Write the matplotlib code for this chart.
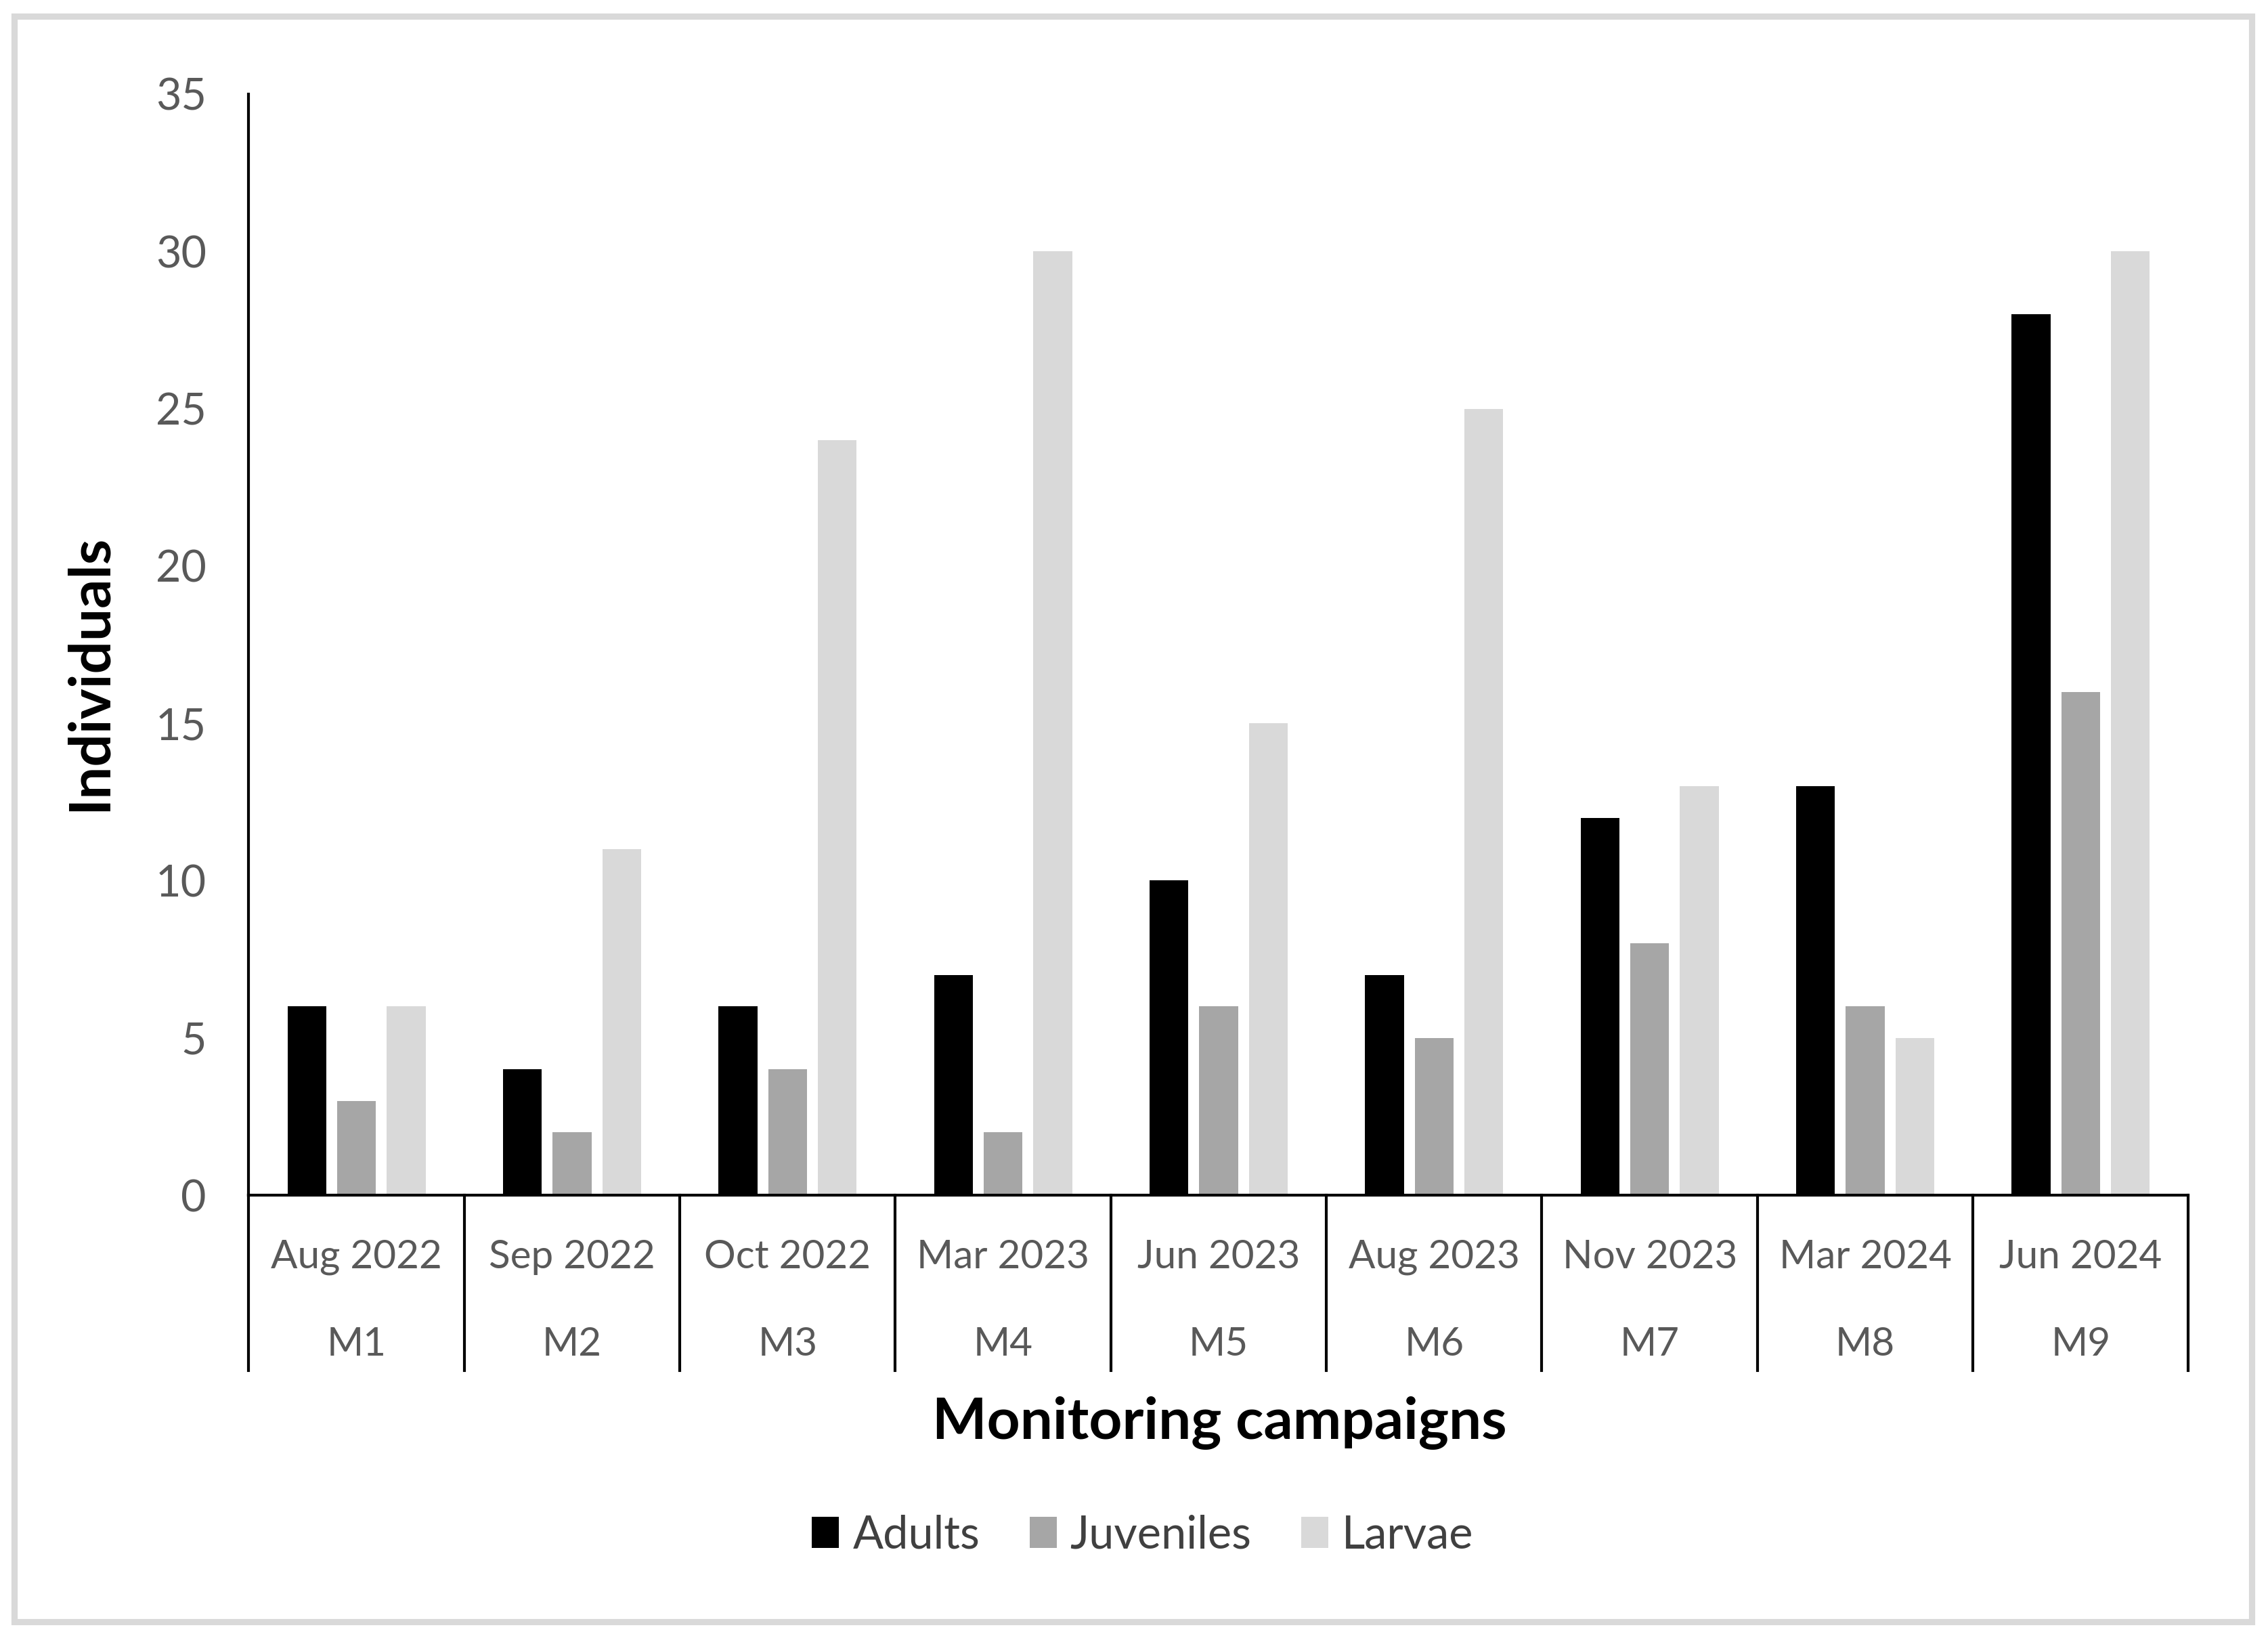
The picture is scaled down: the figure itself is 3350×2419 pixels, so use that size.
import matplotlib
matplotlib.use("Agg")
import matplotlib.pyplot as plt
import matplotlib.transforms as mtransforms
from matplotlib.patches import Rectangle
import numpy as np

plt.rcParams['font.family'] = ['Lato', 'DejaVu Sans']

# data
months   = ["Aug 2022", "Sep 2022", "Oct 2022", "Mar 2023", "Jun 2023",
            "Aug 2023", "Nov 2023", "Mar 2024", "Jun 2024"]
codes    = ["M1", "M2", "M3", "M4", "M5", "M6", "M7", "M8", "M9"]
adults    = [6, 4, 6, 7, 10, 7, 12, 13, 28]
juveniles = [3, 2, 4, 2, 6, 5, 8, 6, 16]
larvae    = [6, 11, 24, 30, 15, 25, 13, 5, 30]

series = [("Adults", adults, "#000000"),
          ("Juveniles", juveniles, "#A6A6A6"),
          ("Larvae", larvae, "#D9D9D9")]

W, H = 1568.0, 1132.0   # layout measured on the shrunk reference
fig = plt.figure(figsize=(3350/300, 2419/300), dpi=300)

# light grey chart border
fig.patches.append(Rectangle((10/W, 1-1121/H), 1547/W, 1110/H,
                             transform=fig.transFigure, fill=False,
                             edgecolor="#D9D9D9", lw=2.2))

ax = fig.add_axes([172/W, 1-826/H, (1513-172)/W, (826-65)/H])

x = np.arange(len(months))
bw = 0.18
step = 0.23
for i, (name, vals, col) in enumerate(series):
    ax.bar(x + (i-1)*step, vals, width=bw, color=col, label=name, zorder=2)

ax.set_xlim(-0.5, len(months)-0.5)
ax.set_ylim(0, 35)
ax.set_yticks(range(0, 36, 5))
ax.tick_params(axis="y", length=0, pad=15, labelsize=15.5, labelcolor="#595959")
ax.set_xticks([])
for s in ["top", "right"]:
    ax.spines[s].set_visible(False)
ax.spines["left"].set_linewidth(1.0)
ax.spines["bottom"].set_linewidth(1.0)

# two level category axis
trans = mtransforms.blended_transform_factory(ax.transData, ax.transAxes)
sep_bottom = (826-947)/(826-65)
for b in np.arange(-0.5, len(months), 1.0):
    ax.plot([b, b], [0, sep_bottom], transform=trans, clip_on=False,
            color="black", lw=1.0)
for xi, m, c in zip(x, months, codes):
    ax.text(xi, (826-869)/(826-65), m, transform=trans, ha="center",
            va="center", fontsize=14, color="#595959")
    ax.text(xi, (826-929)/(826-65), c, transform=trans, ha="center",
            va="center", fontsize=14, color="#595959")

fig.text(843/W, 1-983/H, "Monitoring campaigns", ha="center", va="center",
         fontsize=20.5, fontweight="bold")
fig.text(62/W, 1-465/H, "Individuals", ha="center", va="center",
         rotation=90, fontsize=20.5, fontweight="bold")

fig.legend(loc="center", bbox_to_anchor=(790/W, 1-1061/H), ncol=3,
           frameon=False, fontsize=16, handlelength=0.6, handleheight=0.7,
           handletextpad=0.3, columnspacing=1.1, labelcolor="#404040")

fig.savefig("out.png", dpi=300)
